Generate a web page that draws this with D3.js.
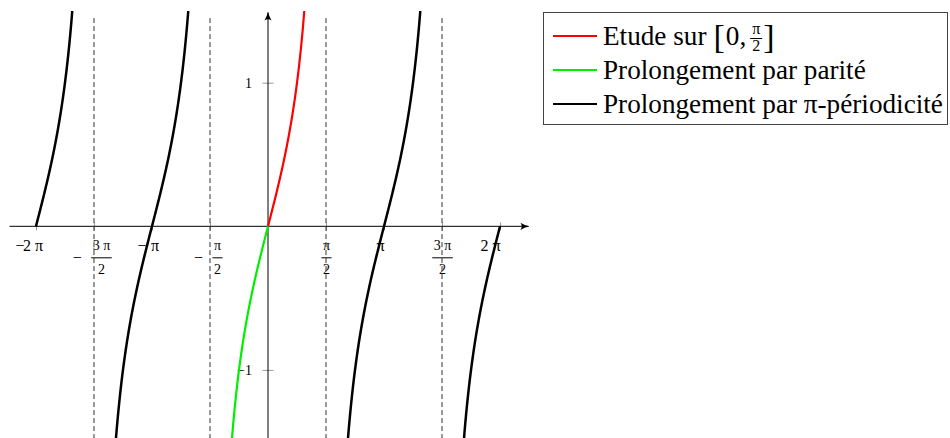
<!DOCTYPE html>
<html>
<head>
<meta charset="utf-8">
<script src="https://cdn.jsdelivr.net/npm/d3@7"></script>
<style>
  body { margin: 0; background: #fff; }
  svg { display: block; }
  text { font-family: "Liberation Serif", "DejaVu Serif", serif; fill: #000; }
</style>
</head>
<body>
<svg id="chart" width="950" height="438"></svg>
<script>
const PI = Math.PI;

// Tick positions on the x axis (multiples of π/2) and their labels
const xTickValues = [-2 * PI, -1.5 * PI, -PI, -0.5 * PI, 0.5 * PI, PI, 1.5 * PI, 2 * PI];
const xTickSigns  = ["−", "−", "−", "−", "", "", "", ""];
const xTickNums   = ["2 π", "3 π", "π", "π", "π", "π", "3 π", "2 π"];
const xTickDens   = [null, "2", null, "2", "2", null, "2", null];

// Tick positions on the y axis and their labels
const yTickValues = [-1, 1];
const yTickLabels = ["−1", "1"];

// Vertical asymptotes of tan
const asymptotes = [-1.5 * PI, -0.5 * PI, 0.5 * PI, 1.5 * PI];

// Intervals on which y = tan(x) is drawn, one list per series
const redIntervals   = [[0, 1]];
const greenIntervals = [[-1, 0]];
const blackIntervals = [[-2 * PI, -2 * PI + 1], [-PI - 1, -PI + 1], [PI - 1, PI + 1], [2 * PI - 1, 2 * PI]];

// Legend entries
const legendColors = ["#ff0000", "#00ee00", "#000000"];
const legendTexts  = ["Etude sur", "Prolongement par parité", "Prolongement par π-périodicité"];

const svg = d3.select("#chart");

const x = d3.scaleLinear().domain([-7, 7]).range([9.5, 526.5]);
const y = d3.scaleLinear().domain([-1.5, 1.5]).range([441.7, 10.9]);

// arrow head marker for the axes
const defs = svg.append("defs");
defs.append("marker")
  .attr("id", "arrow")
  .attr("viewBox", "0 0 10 10")
  .attr("refX", 9).attr("refY", 5)
  .attr("markerWidth", 9).attr("markerHeight", 9)
  .attr("markerUnits", "userSpaceOnUse")
  .attr("orient", "auto")
  .append("path")
  .attr("d", "M0,1 Q5,4 10,5 Q5,6 0,9 Q3,5 0,1 Z")
  .attr("fill", "#000");

defs.append("clipPath").attr("id", "plotClip")
  .append("rect")
  .attr("x", x(-7)).attr("y", y(1.5))
  .attr("width", x(7) - x(-7)).attr("height", y(-1.5) - y(1.5));

// ---- x axis ticks and labels ----
const xAxis = d3.axisBottom(x).tickValues(xTickValues).tickSize(0).tickFormat("");
const gx = svg.append("g").attr("transform", `translate(0,${y(0)})`).call(xAxis);
gx.select(".domain").remove();
gx.selectAll(".tick line").attr("y1", -4).attr("y2", 4).attr("stroke", "#999").attr("stroke-width", 1);
gx.selectAll(".tick text").remove();

gx.selectAll(".tick").each(function (d, i) {
  const g = d3.select(this);
  const sign = xTickSigns[i], num = xTickNums[i], den = xTickDens[i];
  if (den === null) {
    const lab = g.append("g");
    const s = lab.append("text").attr("font-size", 16).attr("y", 25).text(sign);
    const n = lab.append("text").attr("font-size", 16).attr("y", 25).text(num);
    const ws = sign ? s.node().getComputedTextLength() + 4 : 0;
    const wn = n.node().getComputedTextLength();
    const start = -(ws + wn) / 2;
    s.attr("x", start);
    n.attr("x", start + ws);
  } else {
    const lab = g.append("g");
    const s = lab.append("text").attr("font-size", 16).attr("y", 37).text(sign);
    const n = lab.append("text").attr("font-size", 14).attr("text-anchor", "middle").attr("y", 24).text(num);
    const dd = lab.append("text").attr("font-size", 14).attr("text-anchor", "middle").attr("y", 48).text(den);
    const ws = sign ? s.node().getComputedTextLength() : 0;
    const wf = Math.max(n.node().getComputedTextLength(), dd.node().getComputedTextLength()) + 3;
    const gap = sign ? 5 : 0;
    const start = -(ws + gap + wf) / 2;
    s.attr("x", start);
    const fc = start + ws + gap + wf / 2;
    n.attr("x", fc);
    dd.attr("x", fc);
    lab.append("line")
      .attr("x1", fc - wf / 2).attr("x2", fc + wf / 2)
      .attr("y1", 31.5).attr("y2", 31.5)
      .attr("stroke", "#000").attr("stroke-width", 1);
  }
});

// x axis line with arrow
svg.append("line")
  .attr("x1", x(-7)).attr("x2", x(7) + 2)
  .attr("y1", y(0)).attr("y2", y(0))
  .attr("stroke", "#000").attr("stroke-width", 1)
  .attr("marker-end", "url(#arrow)");

// ---- y axis ticks and labels ----
const yAxis = d3.axisLeft(y).tickValues(yTickValues).tickSize(0).tickFormat("");
const gy = svg.append("g").attr("transform", `translate(${x(0)},0)`).call(yAxis);
gy.select(".domain").remove();
gy.selectAll(".tick line").attr("x1", -5.5).attr("x2", 5.5).attr("stroke", "#999").attr("stroke-width", 1);
gy.selectAll(".tick text").remove();
gy.selectAll(".tick").append("text")
  .attr("text-anchor", "end")
  .attr("x", -16)
  .attr("y", 5)
  .attr("font-size", 14)
  .text((d, i) => yTickLabels[i]);

svg.append("line")
  .attr("x1", x(0)).attr("x2", x(0))
  .attr("y1", 445).attr("y2", 12.5)
  .attr("stroke", "#000").attr("stroke-width", 1)
  .attr("marker-end", "url(#arrow)");

// ---- dashed asymptotes ----
svg.append("g").selectAll("line")
  .data(asymptotes)
  .join("line")
  .attr("x1", d => x(d)).attr("x2", d => x(d))
  .attr("y1", y(1.45)).attr("y2", y(-1.5))
  .attr("stroke", "#333").attr("stroke-width", 1)
  .attr("stroke-dasharray", "5,3");

// ---- curves ----
const line = d3.line().x(d => x(d[0])).y(d => y(d[1]));
function sample(iv) {
  const n = 200, pts = [];
  for (let k = 0; k <= n; k++) {
    const t = iv[0] + (iv[1] - iv[0]) * k / n;
    pts.push([t, Math.tan(t)]);
  }
  return pts;
}
const curves = svg.append("g").attr("clip-path", "url(#plotClip)");
function drawSeries(intervals, color, width) {
  curves.append("g").selectAll("path")
    .data(intervals.map(sample))
    .join("path")
    .attr("d", line)
    .attr("fill", "none")
    .attr("stroke", color)
    .attr("stroke-width", width);
}
drawSeries(blackIntervals, legendColors[2], 2.5);
drawSeries(redIntervals, legendColors[0], 2.2);
drawSeries(greenIntervals, legendColors[1], 2.2);

// ---- legend ----
const legend = svg.append("g");
legend.append("rect")
  .attr("x", 543.5).attr("y", 12.5)
  .attr("width", 404).attr("height", 112)
  .attr("fill", "#fff").attr("stroke", "#444").attr("stroke-width", 1);

const rowY = [36, 70, 104];
legendTexts.forEach((t, i) => {
  legend.append("line")
    .attr("x1", 553).attr("x2", 597)
    .attr("y1", rowY[i]).attr("y2", rowY[i])
    .attr("stroke", legendColors[i]).attr("stroke-width", 2);
  const tx = legend.append("text")
    .attr("x", 603).attr("y", rowY[i] + 9)
    .attr("font-size", 27.2)
    .text(t);
  if (i === 0) {
    // interval [0, π/2] after the first label
    let cx = 603 + tx.node().getComputedTextLength() + 7;
    const b1 = legend.append("text").attr("x", cx).attr("y", rowY[i] + 12).attr("font-size", 34).text("[");
    cx += b1.node().getComputedTextLength() + 1;
    const z = legend.append("text").attr("x", cx).attr("y", rowY[i] + 9).attr("font-size", 27.2).text("0,");
    cx += z.node().getComputedTextLength() + 4;
    legend.append("text").attr("x", cx + 6).attr("y", rowY[i] - 2).attr("font-size", 16).attr("text-anchor", "middle").text("π");
    legend.append("text").attr("x", cx + 6).attr("y", rowY[i] + 15).attr("font-size", 16).attr("text-anchor", "middle").text("2");
    legend.append("line").attr("x1", cx).attr("x2", cx + 12).attr("y1", rowY[i] + 2.5).attr("y2", rowY[i] + 2.5)
      .attr("stroke", "#000").attr("stroke-width", 1);
    cx += 13;
    legend.append("text").attr("x", cx).attr("y", rowY[i] + 12).attr("font-size", 34).text("]");
  }
});
</script>
</body>
</html>
